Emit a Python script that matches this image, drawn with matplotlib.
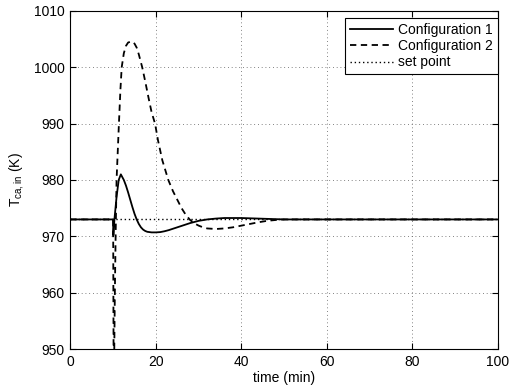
import matplotlib
matplotlib.use('Agg')
import matplotlib.pyplot as plt

plt.rcParams['font.family'] = ['Liberation Sans', 'DejaVu Sans']
plt.rcParams['mathtext.default'] = 'regular'

# configuration 1 (solid)
t1 = [0, 10, 10.05, 10.3, 10.8, 11.3, 11.8, 12.5, 13, 13.5, 14, 14.5, 15, 15.5,
      16, 16.5, 17, 17.5, 18, 19, 20, 21, 22, 23, 24, 25, 26, 27, 28, 29, 30,
      32, 34, 36, 38, 40, 42, 44, 46, 48, 50, 100]
y1 = [973, 973, 970.2, 973.0, 977.0, 980.0, 981.0, 980.0, 979.0, 977.8, 976.5,
      975.2, 974.0, 973.0, 972.2, 971.6, 971.2, 970.95, 970.8, 970.7, 970.7,
      970.75, 970.9, 971.1, 971.35, 971.6, 971.85, 972.1, 972.35, 972.55,
      972.75, 973.0, 973.15, 973.25, 973.25, 973.25, 973.2, 973.15, 973.1,
      973.05, 973.0, 973.0]

# configuration 2 (dashed)
t2 = [0, 10, 10.1, 10.25, 10.4, 10.6, 10.8, 11.35, 11.7, 12.0, 12.5, 13.0, 13.5,
      14.3, 15, 15.5, 16, 16.8, 17.5, 18.3, 19, 19.8, 20.5, 21.5, 22.9, 24, 25,
      26, 27, 28, 29, 30, 31, 32, 33, 34, 36, 38, 40, 42, 44, 46, 48, 50, 100]
y2 = [973, 973, 949, 949, 960, 971, 980, 990, 996, 1000, 1002.5, 1003.8, 1004.4,
      1004.6, 1004.2, 1003.5, 1002.3, 1000, 997.5, 994.5, 992, 990, 987, 983.5,
      980, 978, 976.5, 975, 973.8, 972.9, 972.3, 971.9, 971.6, 971.4, 971.35,
      971.3, 971.4, 971.6, 971.9, 972.2, 972.5, 972.75, 972.9, 973.0, 973.0]

setpoint = 973
labels = ['Configuration 1', 'Configuration 2', 'set point']

fig = plt.figure(figsize=(5.1, 3.89), dpi=100)
ax = fig.add_axes([0.138, 0.1028, 0.8385, 0.869])

ax.plot(t1, y1, color='k', lw=1.3, label=labels[0])
ax.plot(t2, y2, color='k', lw=1.3, dashes=(3.5, 2.5), label=labels[1])
ax.plot([0, 100], [setpoint, setpoint], color='k', lw=1.0, linestyle=(0, (1, 2)), label=labels[2])

ax.set_xlim(0, 100)
ax.set_ylim(950, 1010)
ax.set_xticks(range(0, 101, 20))
ax.set_yticks(range(950, 1011, 10))
ax.grid(True, color='0.35', lw=0.6, linestyle=(0, (1, 3.5)))
ax.tick_params(direction='in', top=True, right=True, length=4, labelsize=10, pad=4)
for s in ax.spines.values():
    s.set_linewidth(0.8)

ax.set_xlabel('time (min)', fontsize=10, labelpad=2)
ax.set_ylabel(r'T$_{ca,in}$ (K)', fontsize=10, labelpad=6)

leg = ax.legend(loc='upper right', bbox_to_anchor=(1.0, 0.978), borderaxespad=0,
                fontsize=10, handlelength=3.1, labelspacing=0.15, fancybox=False,
                framealpha=1, edgecolor='k', borderpad=0.35, handletextpad=0.4)
leg.get_frame().set_linewidth(0.8)

fig.savefig('out.png', dpi=100)
